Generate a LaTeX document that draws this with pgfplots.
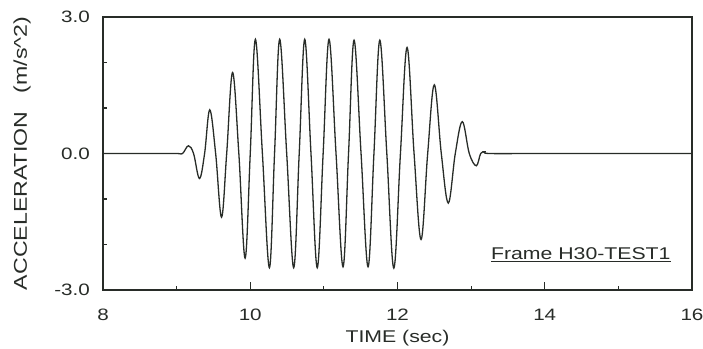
\documentclass[border=0pt]{standalone}
\usepackage{fontspec}
\setmainfont[FakeStretch=1.25]{Liberation Sans}
\usepackage{pgfplots}
\pgfplotsset{compat=1.18}
\definecolor{ink}{RGB}{40,44,40}
\begin{document}
\begin{tikzpicture}
\useasboundingbox (-103pt,-58pt) rectangle (600pt,290pt);
\begin{axis}[
 at={(0,0)}, anchor=south west,
 width=589pt, height=273pt, scale only axis,
 xmin=8, xmax=16, ymin=-3, ymax=3,
 xtick={8,10,12,14,16}, minor xtick={9,11,13,15},
 ytick={-3,0,3}, minor ytick={-2,-1,1,2},
 yticklabel style={/pgf/number format/fixed, /pgf/number format/fixed zerofill, /pgf/number format/precision=1},
 /pgf/number format/assume math mode=true,
 tick pos=left, tick align=inside,
 major tick length=8pt, minor tick length=4pt,
 axis line style={ink, line width=1.4pt},
 every tick/.style={ink, line width=1.1pt},
 ticklabel style={font=\fontsize{16.5}{18}\selectfont, text=ink, inner sep=0pt},
 xticklabel style={anchor=base, yshift=-30pt},
 yticklabel style={anchor=east, xshift=-13pt},
 xlabel={TIME (sec)}, ylabel={ACCELERATION\hspace{1em}(m/s\^{}2)},
 xlabel style={font=\fontsize{17}{19}\selectfont, text=ink, inner sep=0pt, at={(axis description cs:0.5,-0.194)}, anchor=base},
 ylabel style={font=\fontsize{18.5}{20}\selectfont, text=ink, inner sep=0pt, at={(axis description cs:-0.1375,0.5)}, anchor=center},
]
\addplot[ink, line width=1.3pt, smooth, tension=0.6] coordinates {
(8.0,0) (8.6,0) (9.0,0) (9.08,0)
(9.16,0.17) (9.23,0) (9.31,-0.55) (9.38,0)
(9.45,0.96) (9.53,0) (9.61,-1.40) (9.68,0)
(9.76,1.78) (9.845,0) (9.93,-2.30) (10.0,0)
(10.07,2.51) (10.165,0) (10.26,-2.51) (10.33,0)
(10.40,2.51) (10.495,0) (10.59,-2.51) (10.665,0)
(10.74,2.51) (10.825,0) (10.91,-2.51) (10.99,0)
(11.07,2.51) (11.165,0) (11.26,-2.49) (11.335,0)
(11.41,2.49) (11.505,0) (11.60,-2.49) (11.68,0)
(11.76,2.49) (11.855,0) (11.95,-2.52) (12.04,0)
(12.13,2.33) (12.225,0) (12.32,-1.89) (12.41,0)
(12.50,1.51) (12.595,0) (12.69,-1.09) (12.785,0)
(12.88,0.70) (12.975,0) (13.07,-0.27) (13.13,0)
(13.19,0.04) (13.25,0) (14.0,0) (16.0,0)
};
\node[anchor=base, font=\fontsize{17}{19}\selectfont, text=ink] at (axis cs:14.49,-2.34) {\underline{Frame H30-TEST1}};
\end{axis}
\end{tikzpicture}
\end{document}
